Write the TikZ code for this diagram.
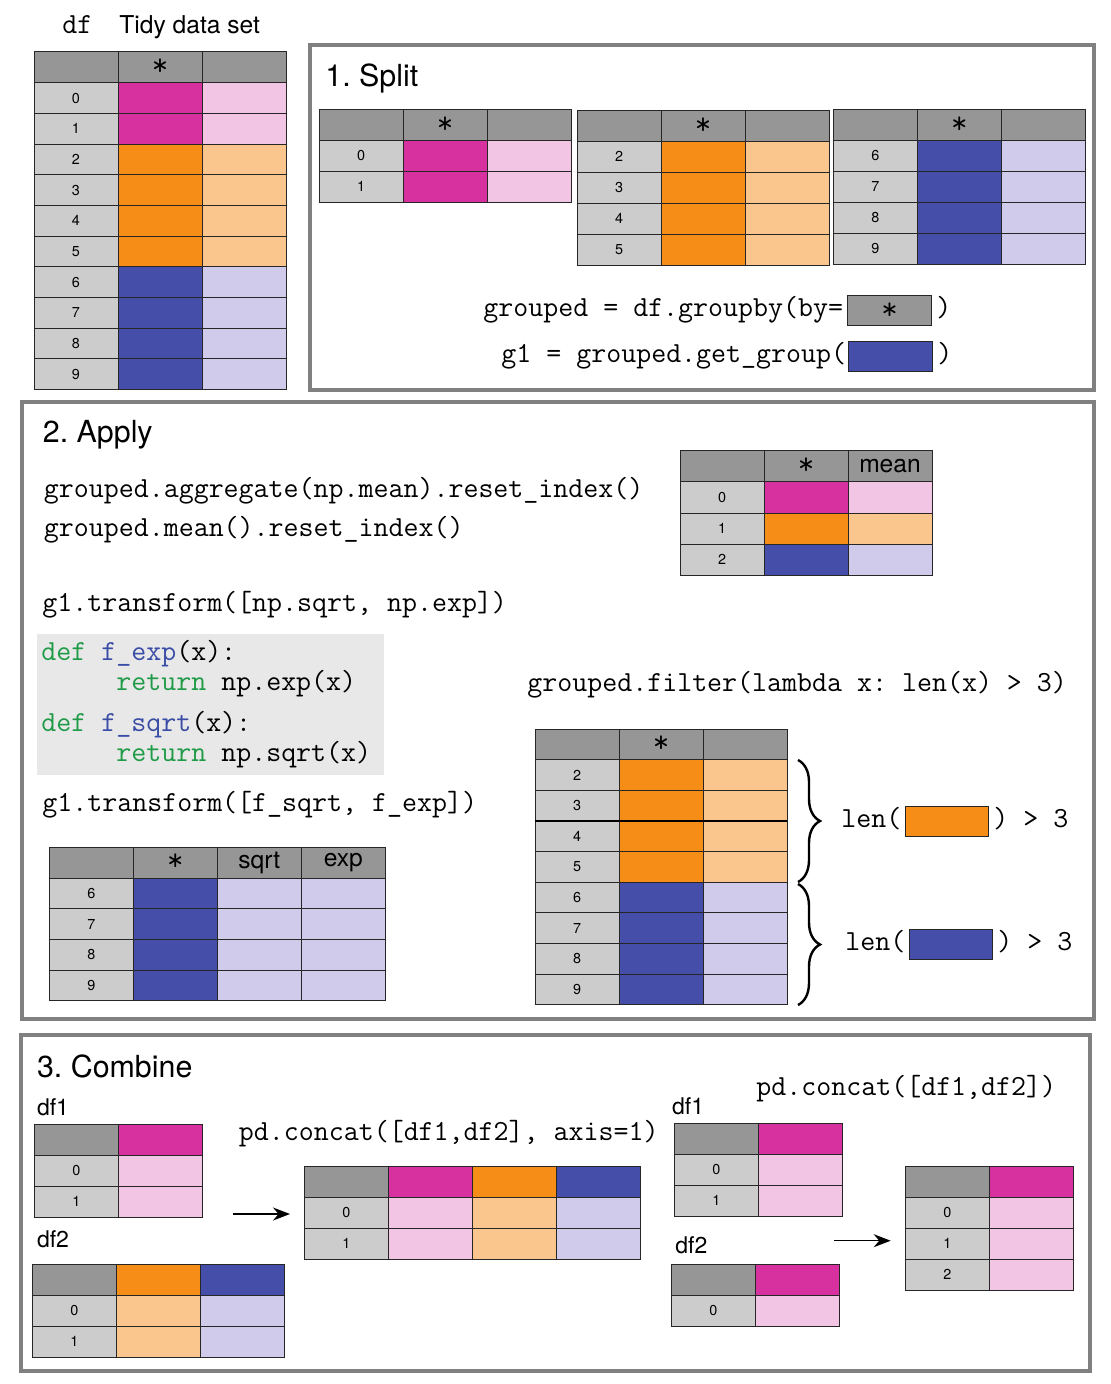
\documentclass[tikz,border=0pt]{standalone}
\usepackage{fontspec}
\setmainfont{TeX Gyre Heros}
\usetikzlibrary{arrows.meta,decorations.pathreplacing}
\frenchspacing

\definecolor{mag}{HTML}{D7309F}
\definecolor{pnk}{HTML}{F2C5E4}
\definecolor{org}{HTML}{F68D16}
\definecolor{lorg}{HTML}{FAC68D}
\definecolor{blu}{HTML}{454EA8}
\definecolor{lav}{HTML}{D1CBEB}
\definecolor{hdrgray}{HTML}{969696}
\definecolor{idxgray}{HTML}{CCCCCC}
\definecolor{panelgray}{HTML}{808080}
\definecolor{codebg}{HTML}{E8E8E8}
\definecolor{kwgreen}{HTML}{1F9B48}
\definecolor{fnblue}{HTML}{3A4DA6}

\tikzset{
  cellline/.style={draw=black!85,line width=0.5pt},
  panel/.style={draw=panelgray,line width=1.75pt},
  idx/.style={font=\fontsize{7.2}{8}\selectfont,inner sep=0pt},
  hdrtext/.style={font=\fontsize{12.3}{14}\selectfont,inner sep=0pt},
  code/.style={font=\ttfamily\fontsize{14.55}{16}\selectfont,anchor=base west,inner sep=0pt},
  title/.style={font=\fontsize{15.2}{18}\selectfont,anchor=base west,inner sep=0pt},
  dfname/.style={font=\fontsize{11.5}{14}\selectfont,anchor=base west,inner sep=0pt},
  keybox/.style={draw=black!85,line width=0.5pt,minimum width=42pt,minimum height=15pt,inner sep=0pt},
  curly/.style={decorate,decoration={brace,amplitude=11pt},line width=1.2pt},
  flow/.style={-{Stealth[length=8.5pt,width=6.5pt]},line width=0.75pt}
}

\newcommand{\keystar}{\raisebox{-0.7ex}{\ttfamily\fontsize{16}{16}\selectfont *}}
\def\rh{31}
% header row: name, x, y, fill/label of the data columns
\newcommand{\headrow}[4]{%
  \draw[cellline,fill=hdrgray] ({#2},{#3}) rectangle ++(84,\rh);
  \foreach \f/\t [count=\k] in {#4}
    \draw[cellline,fill=\f] ({#2+84*\k},{#3}) rectangle ++(84,\rh)
      node[midway,hdrtext] (#1h\k) {\t};
}
% data row: name, x, y, index, fills of the data columns
\newcommand{\datarow}[5]{%
  \draw[cellline,fill=idxgray] ({#2},{#3}) rectangle ++(84,\rh)
    node[midway,idx] (#1r#4) {#4};
  \foreach \f [count=\k] in {#5}
    \draw[cellline,fill=\f] ({#2+84*\k},{#3}) rectangle ++(84,\rh);
}

\begin{document}
\begin{tikzpicture}[x=0.5pt,y=-0.5pt]
\useasboundingbox (0,0) rectangle (1111,1384);

% the tidy data set
\node[code] (dflabel) at (62,34) {df};
\node[title,font=\fontsize{12.3}{14}\selectfont] (tidy) at (119,34) {Tidy data set};
\def\rh{30.7}
\headrow{td}{34}{52}{hdrgray/\keystar,hdrgray/}
\foreach \i/\a/\b in {0/mag/pnk,1/mag/pnk,2/org/lorg,3/org/lorg,4/org/lorg,5/org/lorg,6/blu/lav,7/blu/lav,8/blu/lav,9/blu/lav}
  {\datarow{td}{34}{52+30.7*(\i+1)}{\i}{\a,\b}}

% 1. split
\def\rh{31}
\draw[panel] (310,45) rectangle (1094,390);
\node[title] (split) at (325,87) {1. Split};
\headrow{sa}{319}{109.3}{hdrgray/\keystar,hdrgray/}
\foreach \i in {0,1}
  {\datarow{sa}{319}{109.3+31*(\i+1)}{\i}{mag,pnk}}
\headrow{sb}{577}{110.3}{hdrgray/\keystar,hdrgray/}
\foreach \i in {2,...,5}
  {\datarow{sb}{577}{110.3+31*(\i-1)}{\i}{org,lorg}}
\headrow{sc}{833.4}{109.3}{hdrgray/\keystar,hdrgray/}
\foreach \i in {6,...,9}
  {\datarow{sc}{833.4}{109.3+31*(\i-5)}{\i}{blu,lav}}
\node[code] (groupby) at (483,317) {grouped = df.groupby(by=};
\node[keybox,fill=hdrgray] (bykey) at (889.5,311) {\keystar};
\node[code] (groupbyend) at (936,317) {)};
\node[code] (getgroup) at (501,363) {g1 = grouped.get\_group(};
\node[keybox,fill=blu] (getkey) at (890,357) {};
\node[code] (getgroupend) at (937,363) {)};

% 2. apply
\draw[panel] (22,402) rectangle (1094,1019);
\node[title] (apply) at (42.5,443) {2. Apply};
\node[code] (agg) at (43.5,497) {grouped.aggregate(np.mean).reset\_index()};
\node[code] (mean) at (43.5,537) {grouped.mean().reset\_index()};
\headrow{mn}{680}{451}{hdrgray/\keystar,hdrgray/mean}
\foreach \i/\a/\b in {0/mag/pnk,1/org/lorg,2/blu/lav}
  {\datarow{mn}{680}{451+31*(\i+1)}{\i}{\a,\b}}
\node[code] (trnp) at (42,611) {g1.transform([np.sqrt, np.exp])};
\fill[codebg] (36.5,634) rectangle (383.5,774.5);
\node[code] (defexp) at (41,660) {\textcolor{kwgreen}{def} \textcolor{fnblue}{f\_exp}(x):};
\node[code] (retexp) at (116,690) {\textcolor{kwgreen}{return} np.exp(x)};
\node[code] (defsqrt) at (41,731.5) {\textcolor{kwgreen}{def} \textcolor{fnblue}{f\_sqrt}(x):};
\node[code] (retsqrt) at (116,761) {\textcolor{kwgreen}{return} np.sqrt(x)};
\node[code] (trfn) at (42,811) {g1.transform([f\_sqrt, f\_exp])};
\def\rh{30.7}
\headrow{tf}{49.3}{847.3}{hdrgray/\keystar,hdrgray/sqrt,hdrgray/exp}
\foreach \i in {6,...,9}
  {\datarow{tf}{49.3}{847.3+30.7*(\i-5)}{\i}{blu,lav,lav}}
% filter
\node[code] (filt) at (527,691) {grouped.filter(lambda x: len(x) > 3)};
\def\rh{30.6}
\headrow{ft}{535}{729.3}{hdrgray/\keystar,hdrgray/}
\foreach \i/\a/\b in {2/org/lorg,3/org/lorg,4/org/lorg,5/org/lorg,6/blu/lav,7/blu/lav,8/blu/lav,9/blu/lav}
  {\datarow{ft}{535}{729.3+30.6*(\i-1)}{\i}{\a,\b}}
\draw[line width=1.1pt] (535,821.1) -- (787,821.1);
\coordinate (orgtop) at (798,760);
\coordinate (orgbot) at (798,882);
\coordinate (blutop) at (798,884);
\coordinate (blubot) at (798,1005);
\draw[curly] (orgtop) -- (orgbot);
\draw[curly] (blutop) -- (blubot);
\node[code] (lenorg) at (841,827) {len(};
\node[keybox,fill=org,minimum width=41.5pt] (orgkey) at (947,821) {};
\node[code] (lenorgend) at (993,827) {) > 3};
\node[code] (lenblu) at (845,950) {len(};
\node[keybox,fill=blu,minimum width=41.5pt] (blukey) at (950.5,944) {};
\node[code] (lenbluend) at (997,950) {) > 3};

% 3. combine
\def\rh{31}
\draw[panel] (21,1035) rectangle (1090,1371);
\node[title] (combine) at (36.6,1077) {3. Combine};
% side by side
\node[dfname] (dfa) at (36.6,1115) {df1};
\headrow{ca}{34.5}{1124.3}{mag/}
\foreach \i in {0,1}
  {\datarow{ca}{34.5}{1124.3+31*(\i+1)}{\i}{pnk}}
\node[dfname] (dfb) at (36.6,1247) {df2};
\headrow{cb}{32.4}{1264.3}{org/,blu/}
\foreach \i in {0,1}
  {\datarow{cb}{32.4}{1264.3+31*(\i+1)}{\i}{lorg,lav}}
\node[code] (concatax) at (238.5,1140) {pd.concat([df1,df2], axis=1)};
\coordinate (axfrom) at (233,1214);
\coordinate (axto) at (290,1214);
\draw[flow] (axfrom) -- (axto);
\headrow{cc}{304.4}{1166.3}{mag/,org/,blu/}
\foreach \i in {0,1}
  {\datarow{cc}{304.4}{1166.3+31*(\i+1)}{\i}{pnk,lorg,lav}}
% one below the other
\node[code] (concatrow) at (756,1095) {pd.concat([df1,df2])};
\node[dfname] (dfc) at (671.7,1114) {df1};
\headrow{cd}{674.3}{1123.3}{mag/}
\foreach \i in {0,1}
  {\datarow{cd}{674.3}{1123.3+31*(\i+1)}{\i}{pnk}}
\node[dfname] (dfd) at (675,1253) {df2};
\headrow{ce}{671.3}{1264.3}{mag/}
\datarow{ce}{671.3}{1295.3}{0}{pnk}
\coordinate (rowfrom) at (834.3,1240.7);
\coordinate (rowto) at (890.7,1240.7);
\draw[flow] (rowfrom) -- (rowto);
\headrow{cf}{905.3}{1166.3}{mag/}
\foreach \i in {0,1,2}
  {\datarow{cf}{905.3}{1166.3+31*(\i+1)}{\i}{pnk}}
\end{tikzpicture}
\end{document}
